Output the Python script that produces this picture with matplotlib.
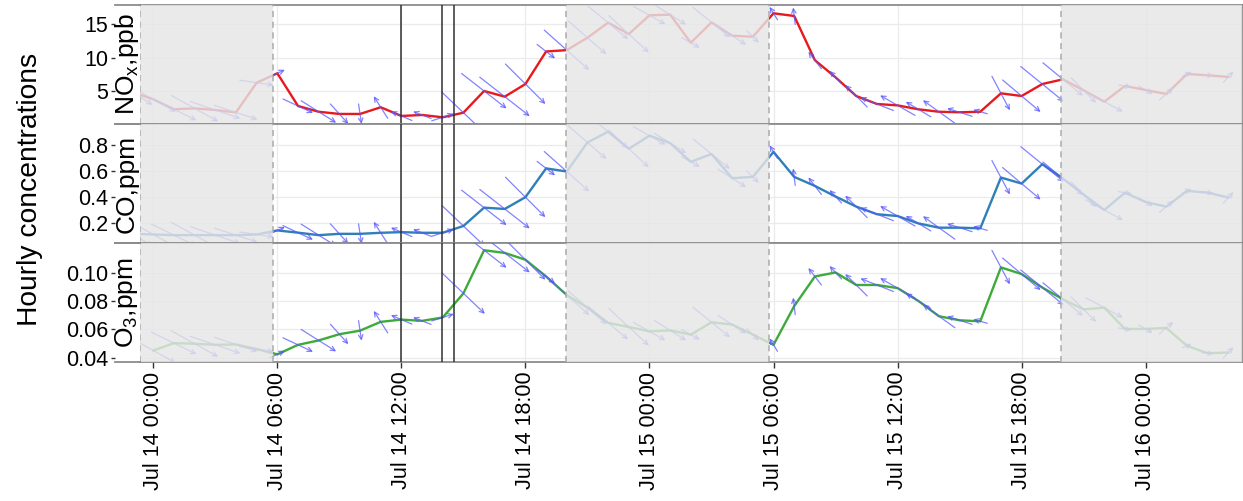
import numpy as np
import matplotlib
matplotlib.use('Agg')
import matplotlib.pyplot as plt
from matplotlib.transforms import ScaledTranslation

plt.rcParams['font.family'] = ['Liberation Sans', 'DejaVu Sans']
plt.rcParams['mathtext.default'] = 'regular'

# hours since Jul 14 00:00
hours = list(range(-1, 53))

nox = [4.8, 3.76, 2.27, 2.4, 2.16, 1.8, 6.24, 7.64, 2.76, 1.9,
       1.57, 1.57, 2.57, 1.27, 1.42, 1.07, 1.76, 5.0, 4.15, 6.04,
       10.9, 11.1, 12.96, 15.2, 13.5, 16.3, 16.4, 12.2, 15.25, 13.25,
       13.1, 16.6, 16.2, 9.6, 7.04, 4.25, 3.06, 2.85, 2.27, 1.9,
       1.82, 1.9, 4.65, 4.25, 6.04, 6.74, 5.1, 3.4, 5.75, 5.15,
       4.55, 7.54, 7.34, 7.1]
nox = nox[:len(hours)]

co = [0.12, 0.115, 0.11, 0.11, 0.11, 0.11, 0.115, 0.146, 0.129, 0.11,
      0.12, 0.12, 0.128, 0.133, 0.128, 0.128, 0.18, 0.32, 0.31, 0.40,
      0.62, 0.596, 0.818, 0.90, 0.77, 0.87, 0.813, 0.67, 0.73, 0.545,
      0.555, 0.746, 0.555, 0.486, 0.405, 0.328, 0.27, 0.256, 0.2, 0.167,
      0.167, 0.162, 0.55, 0.504, 0.652, 0.542, 0.42, 0.302, 0.435, 0.363,
      0.328, 0.448, 0.435, 0.397]

o3 = [np.nan, 0.045, 0.0502, 0.0498, 0.049, 0.0493, 0.046, 0.0423, 0.049, 0.0521,
      0.0565, 0.059, 0.0652, 0.0668, 0.0659, 0.0683, 0.0853, 0.1157, 0.1138, 0.109,
      0.0972, 0.0841, 0.0752, 0.0645, 0.0616, 0.0585, 0.0592, 0.0562, 0.0649, 0.0633,
      0.0562, 0.049, 0.0763, 0.0972, 0.100, 0.0912, 0.0912, 0.089, 0.080, 0.0692,
      0.0663, 0.0656, 0.1036, 0.0989, 0.0894, 0.0811, 0.074, 0.0752, 0.0602, 0.0602,
      0.0609, 0.0483, 0.0431, 0.0436]

# wind vector components (east, north), arbitrary units
wind_u = [40, 45, 45, 47, 50, 43, 34, 15, 30, 35,
          18, 3, -14, -21, -18, 22, 43, 45, 50, 40,
          18, 45, 38, 40, 40, 32, 32, 18, 37, 28,
          12, -8, -2, -13, -12, -22, -33, -35, -25, -32,
          -25, -14, 18, 38, 43, 40, 25, 37, 13, 14,
          14, 9, 12, 10]
wind_v = [-25, -25, -22, -26, -17, -14, -5, 7, -14, -22,
          -20, -20, 22, 9, 7, 7, -41, -35, -39, -40,
          -14, -40, -33, -33, -37, -18, -20, -10, -30, -18,
          -12, 13, 17, 17, 13, 22, 13, 20, 15, 23,
          8, 4, -34, -32, -35, -33, -25, -20, -2, -8,
          12, 4, -1, 11]

night_start = [-0.65, 19.95, 43.9]
night_end = [5.8, 29.8, 52.7]
events = [12.0, 13.97, 14.53]

tick_hours = [0, 6, 12, 18, 24, 30, 36, 42, 48]
tick_labels = ['Jul 14 00:00', 'Jul 14 06:00', 'Jul 14 12:00', 'Jul 14 18:00',
               'Jul 15 00:00', 'Jul 15 06:00', 'Jul 15 12:00', 'Jul 15 18:00',
               'Jul 16 00:00']

panels = [
    ('NO$_x$,ppb', nox, '#E8191C', (0.07, 17.84), [5, 10, 15], ['5', '10', '15']),
    ('CO,ppm', co, '#2F7FB8', (0.05, 0.959), [0.2, 0.4, 0.6, 0.8], ['0.2', '0.4', '0.6', '0.8']),
    ('O$_3$,ppm', o3, '#3DAA3A', (0.0369, 0.1208), [0.04, 0.06, 0.08, 0.10],
     ['0.04', '0.06', '0.08', '0.10']),
]

W, H = 1243, 501
fig = plt.figure(figsize=(W / 100, H / 100), dpi=100)
dpi = fig.dpi

left, right = 140, 1242
tops = [5, 124, 243]
ph = 119
frame_col = '#8C8C8C'

for i, (label, vals, col, ylim, yt, ytl) in enumerate(panels):
    top = tops[i]
    ax = fig.add_axes([left / W, 1 - (top + ph) / H, (right - left) / W, ph / H])
    ax.spines['left'].set_position(('outward', 25 * 72 / dpi))
    ax.spines['left'].set_visible(False)
    ax.set_xlim(-0.643, 52.66)
    ax.set_ylim(*ylim)
    ax.grid(True, color='#EBEBEB', lw=0.9, zorder=0)
    ax.set_axisbelow(True)

    x = np.array(hours, dtype=float)
    y = np.array(vals, dtype=float)
    ax.plot(x, y, color=col, lw=1.7, zorder=2, solid_joinstyle='round')

    # wind arrows centred on each observation
    for xi, yi, ui, vi in zip(x, y, wind_u, wind_v):
        if np.isnan(yi):
            continue
        head = ax.transData + ScaledTranslation(ui / 2 / dpi, vi / 2 / dpi, fig.dpi_scale_trans)
        a = ax.annotate('', xy=(xi, yi), xycoords=head, xytext=(-ui, -vi),
                        textcoords='offset pixels',
                        arrowprops=dict(arrowstyle='->', color=(0.35, 0.35, 1.0), alpha=0.75,
                                        lw=0.9, shrinkA=0, shrinkB=0, mutation_scale=8),
                        zorder=3)
        a.arrow_patch.set_clip_box(ax.bbox)

    # night shading on top
    for s, e in zip(night_start, night_end):
        ax.axvspan(s, e, facecolor='#E6E6E6', alpha=0.82, lw=0, zorder=4)
        for b in (s, e):
            ax.axvline(b, color='#ABABAB', lw=1.1, ls=(0, (4, 3)), zorder=5)

    for ev in events:
        ax.axvline(ev, color='#303030', lw=1.1, zorder=6)

    ax.set_xticks(tick_hours)
    if i < 2:
        ax.tick_params(axis='x', length=0, labelbottom=False)
    else:
        ax.set_xticklabels(tick_labels, rotation=90)
        ax.tick_params(axis='x', length=4, width=1, color='#333333', pad=3, labelsize=15.5)

    ax.set_yticks(yt)
    ax.set_yticklabels(ytl)
    ax.tick_params(axis='y', length=3, width=1, color='#333333', pad=2, labelsize=15.5)
    for sp in ('top', 'bottom', 'right'):
        ax.spines[sp].set_color(frame_col)
        ax.spines[sp].set_linewidth(1.3)

    # strip label beside the panel
    fig.text(127 / W, 1 - (top + ph / 2) / H, label, rotation=90, ha='center', va='center',
             fontsize=19)
    # extend the frame lines over the strip
    for yy in (top, top + ph):
        fig.add_artist(plt.Line2D([115 / W, left / W], [1 - yy / H, 1 - yy / H],
                                  color=frame_col, lw=1.3))

fig.text(30 / W, 1 - 189 / H, 'Hourly concentrations', rotation=90, ha='center',
         va='center', fontsize=20.3)

fig.savefig('out.png', dpi=100)
